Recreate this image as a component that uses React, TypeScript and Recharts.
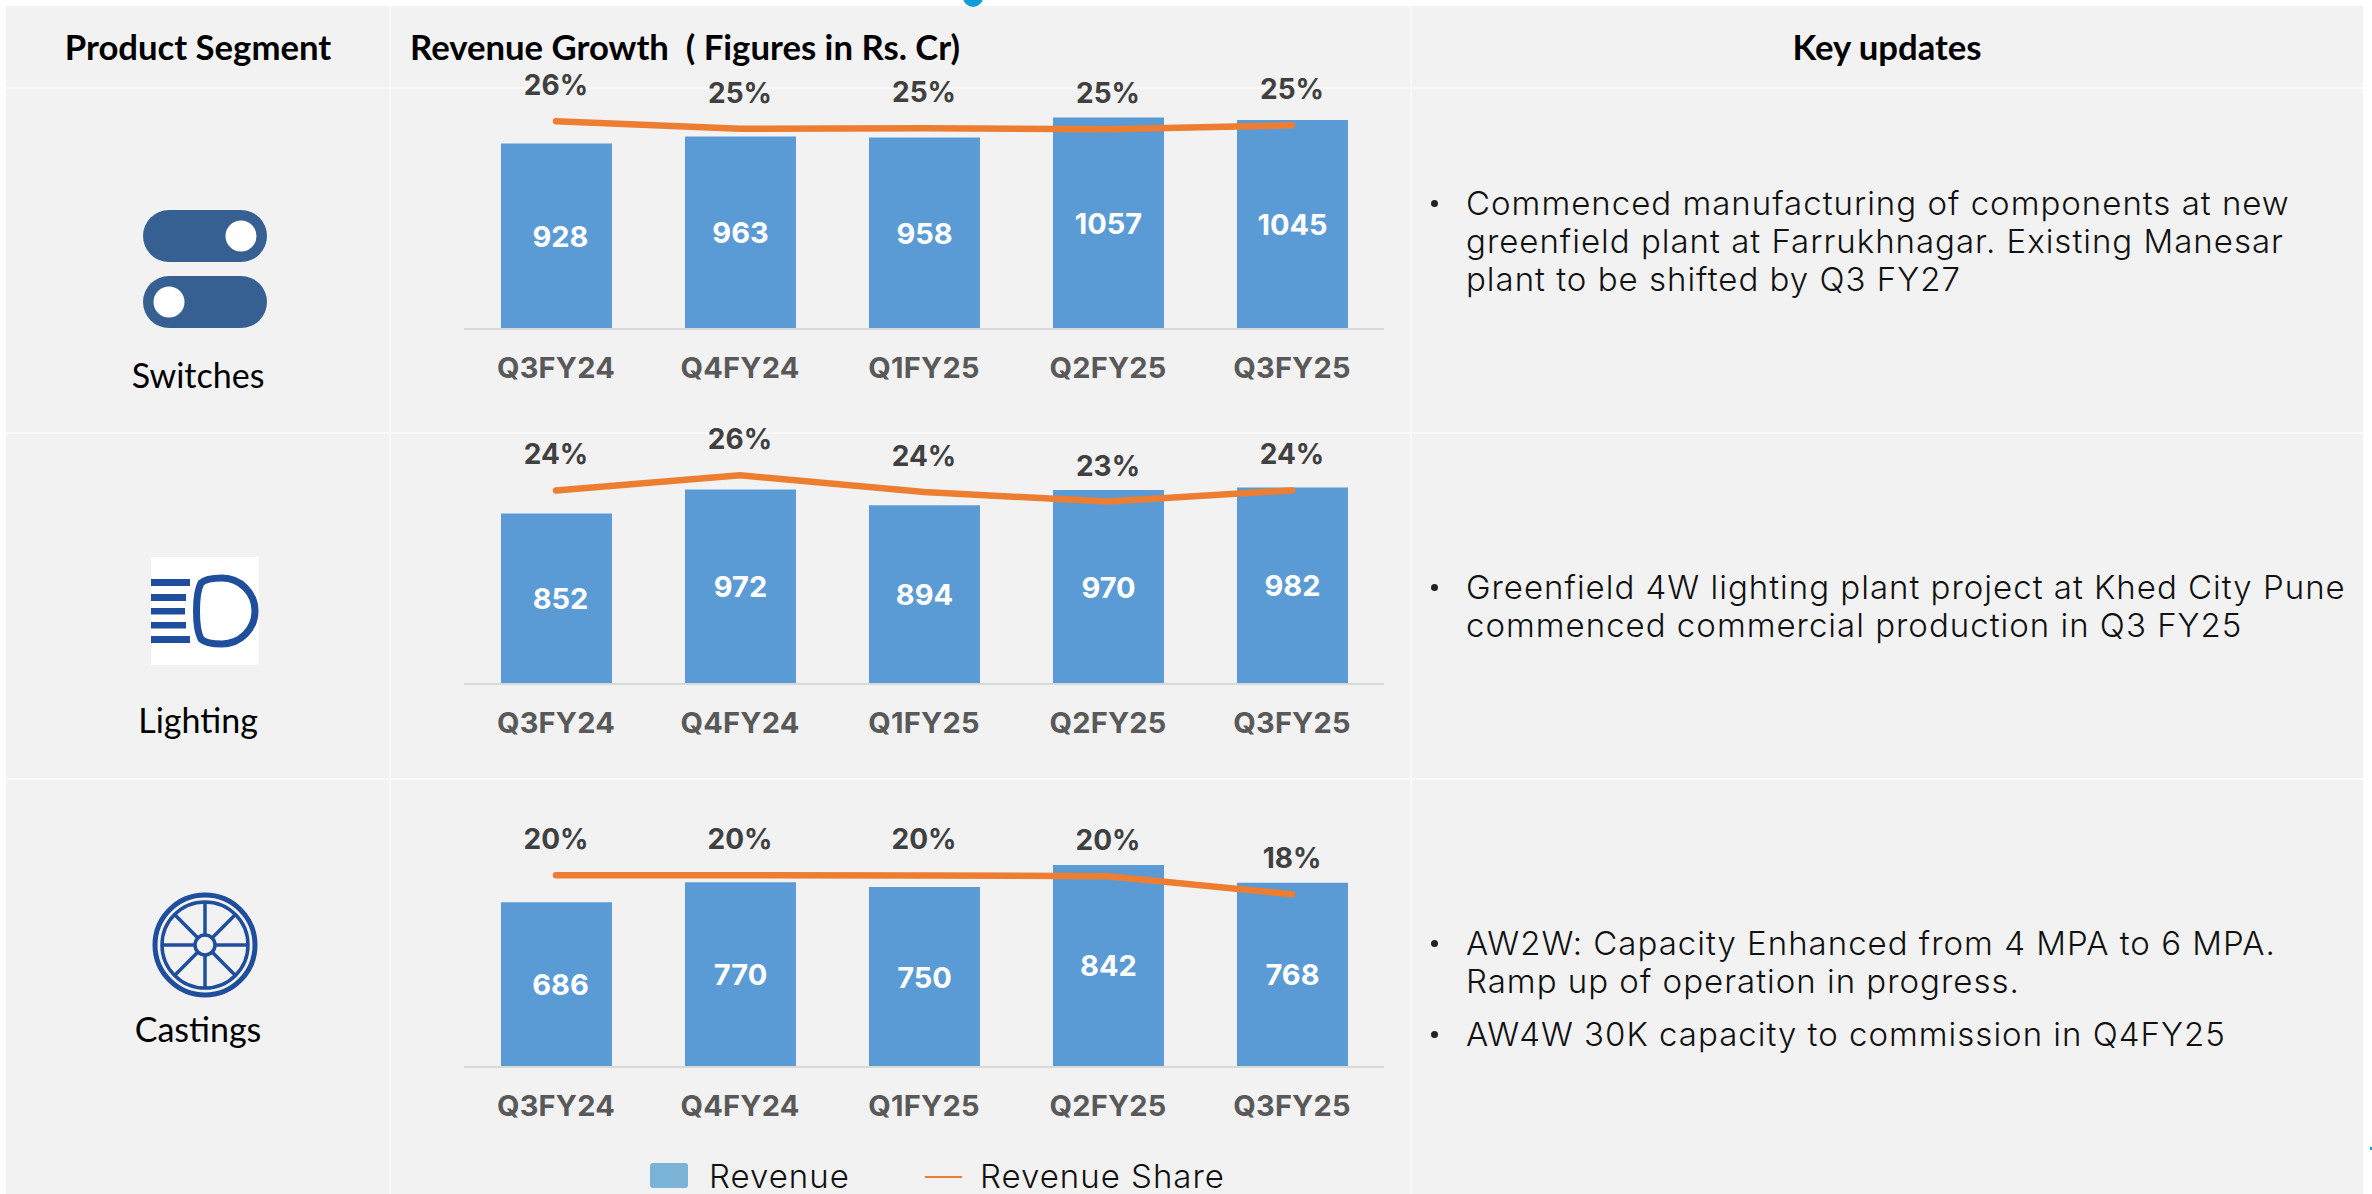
import { Bar, ComposedChart, LabelList, Line, XAxis, YAxis } from 'recharts';

const quarters = ['Q3FY24', 'Q4FY24', 'Q1FY25', 'Q2FY25', 'Q3FY25'];

const switchesRevenue = [928, 963, 958, 1057, 1045];
const switchesShare = [25.97, 25.03, 25.1, 24.97, 25.47];
const lightingRevenue = [852, 972, 894, 970, 982];
const lightingShare = [24.2, 26.1, 24.0, 22.8, 24.2];
const castingsRevenue = [686, 770, 750, 842, 768];
const castingsShare = [19.98, 19.98, 19.95, 19.87, 17.99];

const BLUE = '#5b9bd5';
const ORANGE = '#ed7d31';
const ICON_BLUE = '#1f4e9c';
const MONT = 'Inter, sans-serif';
const CAL = 'Lato, sans-serif';

const PLOT_H = 240;
const MARGIN_TOP = 60;
const MARGIN_BOTTOM = 70;

function toRows(revenue: number[], share: number[]) {
	return quarters.map((q, i) => ({ quarter: q, revenue: revenue[i], share: share[i] }));
}

function BarValue(props: any) {
	const { x, y, width, height, value, index } = props;
	return (
		<text
			x={x + width / 2 + (index === 0 ? 4 : 0)}
			y={y + height / 2}
			textAnchor='middle'
			dominantBaseline='central'
			fill='#fff'
			fontFamily={MONT}
			fontWeight={700}
			fontSize={29}
		>
			{value}
		</text>
	);
}

function ShareValue(props: any) {
	const { x, y, value } = props;
	return (
		<text
			x={x}
			y={y - 36}
			textAnchor='middle'
			dominantBaseline='central'
			fill='#404040'
			fontFamily={MONT}
			fontWeight={700}
			fontSize={28}
		>
			{Math.round(value)}%
		</text>
	);
}

function RevenueChart({ revenue, share, revenueMax, shareMax, baseline }: any) {
	return (
		<div style={{ position: 'absolute', left: 464, top: baseline - PLOT_H - MARGIN_TOP }}>
			<ComposedChart
				width={920}
				height={PLOT_H + MARGIN_TOP + MARGIN_BOTTOM}
				data={toRows(revenue, share)}
				margin={{ top: MARGIN_TOP, right: 0, bottom: 0, left: 0 }}
				barSize={111}
			>
				<XAxis
					dataKey='quarter'
					height={MARGIN_BOTTOM}
					tickLine={false}
					tickSize={0}
					tickMargin={28}
					axisLine={{ stroke: '#d9d9d9', strokeWidth: 2 }}
					tick={{ fill: '#595959', fontFamily: MONT, fontWeight: 700, fontSize: 29, letterSpacing: 0.2 }}
					interval={0}
				/>
				<YAxis yAxisId='revenue' hide domain={[0, revenueMax]} />
				<YAxis yAxisId='share' hide orientation='right' domain={[0, shareMax]} />
				<Bar yAxisId='revenue' dataKey='revenue' fill={BLUE} isAnimationActive={false}>
					<LabelList dataKey='revenue' position='center' content={BarValue} />
				</Bar>
				<Line
					yAxisId='share'
					type='linear'
					dataKey='share'
					stroke={ORANGE}
					strokeWidth={6.5}
					strokeLinecap='round'
					dot={false}
					isAnimationActive={false}
				>
					<LabelList dataKey='share' position='top' content={ShareValue} />
				</Line>
			</ComposedChart>
		</div>
	);
}

function Txt({ x, y, children, center, style }: any) {
	return (
		<div
			style={{
				position: 'absolute',
				left: x,
				top: y,
				whiteSpace: 'pre',
				lineHeight: 1,
				transform: center ? 'translate(-50%, -50%)' : 'translateY(-50%)',
				...style,
			}}
		>
			{children}
		</div>
	);
}

function Header(props: any) {
	return <Txt {...props} style={{ fontFamily: CAL, fontWeight: 700, fontSize: 34.7, color: '#000' }} />;
}

function RowName(props: any) {
	return <Txt {...props} center style={{ fontFamily: CAL, fontSize: 34, color: '#000' }} />;
}

const noteFont = { fontFamily: MONT, fontWeight: 300, fontSize: 33, color: '#111', letterSpacing: 1 };

function Note({ y, lines }: { y: number; lines: string[] }) {
	return (
		<>
			<div
				style={{
					position: 'absolute',
					left: 1431,
					top: y - 3,
					width: 7,
					height: 7,
					borderRadius: '50%',
					background: '#222',
				}}
			/>
			{lines.map((line, i) => (
				<Txt key={line} x={1466} y={y + i * 38} style={noteFont}>
					{line}
				</Txt>
			))}
		</>
	);
}

function Icons() {
	const spokes = [0, 45, 90, 135, 180, 225, 270, 315];
	return (
		<svg width={2372} height={1194} style={{ position: 'absolute', left: 0, top: 0 }}>
			<circle cx={973} cy={-3} r={10} fill='#0f9ed5' />
			<rect x={2370} y={1147} width={2} height={3} fill='#0f9ed5' />
			{/* switches */}
			<rect x={143} y={210} width={124} height={52} rx={26} fill='#376092' />
			<rect x={143} y={276} width={124} height={52} rx={26} fill='#376092' />
			<circle cx={241} cy={236} r={15.5} fill='#fff' />
			<circle cx={169} cy={302} r={15.5} fill='#fff' />
			{/* lighting */}
			<rect x={151} y={557} width={108} height={108} fill='#fff' />
			<rect x={151} y={579} width={39} height={7} fill={ICON_BLUE} />
			<rect x={151} y={594} width={35} height={7} fill={ICON_BLUE} />
			<rect x={151} y={608} width={34} height={6.5} fill={ICON_BLUE} />
			<rect x={151} y={622} width={35} height={6.5} fill={ICON_BLUE} />
			<rect x={151} y={636} width={39} height={7} fill={ICON_BLUE} />
			<path
				d='M201 583 C205 579 214 578 222 578 A33 33 0 0 1 222 644 C214 644 205 643 201 639 C195 628 195 594 201 583 Z'
				fill='none'
				stroke={ICON_BLUE}
				strokeWidth={7}
			/>
			{/* castings */}
			<circle cx={205} cy={945} r={50} fill='none' stroke={ICON_BLUE} strokeWidth={5} />
			<circle cx={205} cy={945} r={43} fill='none' stroke={ICON_BLUE} strokeWidth={3.5} />
			<circle cx={205} cy={945} r={10} fill='none' stroke={ICON_BLUE} strokeWidth={3.5} />
			{spokes.map(a => (
				<line
					key={a}
					x1={205 + 10 * Math.cos((a * Math.PI) / 180)}
					y1={945 + 10 * Math.sin((a * Math.PI) / 180)}
					x2={205 + 43 * Math.cos((a * Math.PI) / 180)}
					y2={945 + 43 * Math.sin((a * Math.PI) / 180)}
					stroke={ICON_BLUE}
					strokeWidth={3.5}
				/>
			))}
		</svg>
	);
}

function ChartLegend() {
	return (
		<>
			<div
				style={{
					position: 'absolute',
					left: 650,
					top: 1163,
					width: 38,
					height: 25,
					borderRadius: 3,
					background: '#7ab3d6',
				}}
			/>
			<Txt x={709} y={1176} style={noteFont}>
				Revenue
			</Txt>
			<div style={{ position: 'absolute', left: 925, top: 1176, width: 37, height: 2, background: ORANGE }} />
			<Txt x={980} y={1176} style={noteFont}>
				Revenue Share
			</Txt>
		</>
	);
}

export default function App() {
	const gridLine = '#f9f9f9';
	return (
		<div
			style={{
				position: 'absolute',
				left: 0,
				top: 0,
				width: 2372,
				height: 1194,
				background: '#fff',
				overflow: 'hidden',
			}}
		>
			<div style={{ position: 'absolute', left: 6, top: 6, width: 2357, height: 1188, background: '#f2f2f2' }} />
			{[389, 1409.5].map(x => (
				<div key={x} style={{ position: 'absolute', left: x, top: 6, width: 2, height: 1188, background: gridLine }} />
			))}
			{[87, 432, 778].map(y => (
				<div key={y} style={{ position: 'absolute', left: 6, top: y, width: 2357, height: 2, background: gridLine }} />
			))}

			<Icons />

			<Header x={198} y={47} center>
				Product Segment
			</Header>
			<Header x={410} y={47}>
				Revenue Growth  ( Figures in Rs. Cr)
			</Header>
			<Header x={1887} y={47} center>
				Key updates
			</Header>

			<RowName x={198} y={375}>
				Switches
			</RowName>
			<RowName x={198} y={720}>
				Lighting
			</RowName>
			<RowName x={198} y={1029}>
				Castings
			</RowName>

			<RevenueChart revenue={switchesRevenue} share={switchesShare} revenueMax={1200} shareMax={30} baseline={329} />
			<RevenueChart revenue={lightingRevenue} share={lightingShare} revenueMax={1200} shareMax={30} baseline={684} />
			<RevenueChart revenue={castingsRevenue} share={castingsShare} revenueMax={1000} shareMax={25} baseline={1067} />

			<Note
				y={203}
				lines={[
					'Commenced manufacturing of components at new',
					'greenfield plant at Farrukhnagar. Existing Manesar',
					'plant to be shifted by Q3 FY27',
				]}
			/>
			<Note
				y={587}
				lines={['Greenfield 4W lighting plant project at Khed City Pune', 'commenced commercial production in Q3 FY25']}
			/>
			<Note y={943} lines={['AW2W: Capacity Enhanced from 4 MPA to 6 MPA.', 'Ramp up of operation in progress.']} />
			<Note y={1034} lines={['AW4W 30K capacity to commission in Q4FY25']} />

			<ChartLegend />
		</div>
	);
}
